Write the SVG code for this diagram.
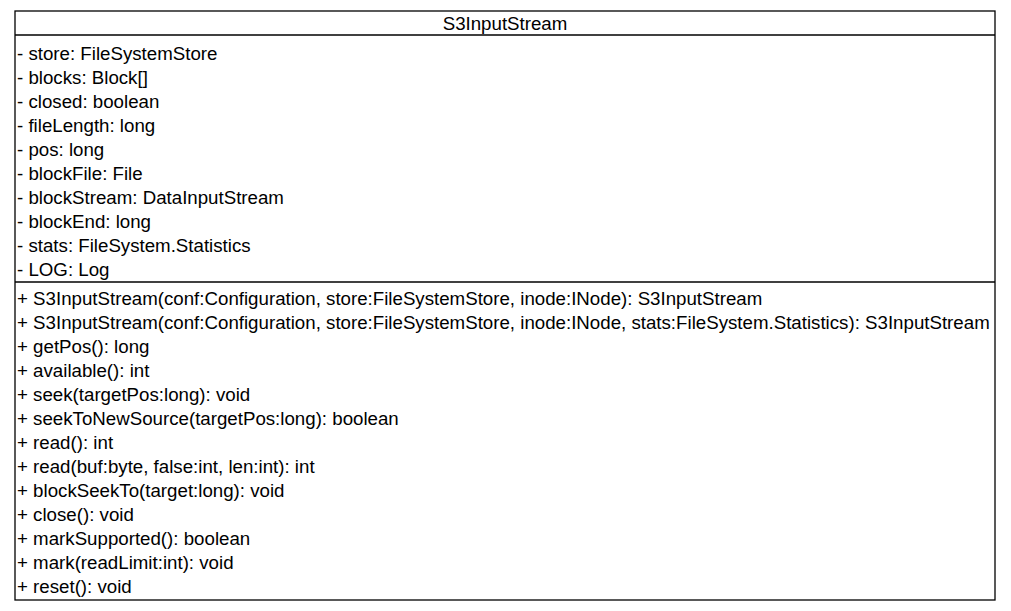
<svg xmlns="http://www.w3.org/2000/svg" width="1011" height="611" viewBox="0 0 1011 611">
<style>
text{font-family:"Liberation Sans",Arial,sans-serif;font-size:18.7px;fill:#000}
.box{fill:#fff;stroke:#000;stroke-width:1.3}
.sep{stroke:#000;stroke-width:1.3}
</style>
<rect width="1011" height="611" fill="#fff"/>
<g id="S3InputStream">
<rect class="box" x="15" y="11" width="980" height="589"/>
<line class="sep" x1="15" y1="35" x2="995" y2="35"/>
<line class="sep" x1="15" y1="282" x2="995" y2="282"/>
<text x="505" y="30" text-anchor="middle">S3InputStream</text>
<text x="17" y="60">- store: FileSystemStore</text>
<text x="17" y="84">- blocks: Block[]</text>
<text x="17" y="108">- closed: boolean</text>
<text x="17" y="132">- fileLength: long</text>
<text x="17" y="156">- pos: long</text>
<text x="17" y="180">- blockFile: File</text>
<text x="17" y="204">- blockStream: DataInputStream</text>
<text x="17" y="228">- blockEnd: long</text>
<text x="17" y="252">- stats: FileSystem.Statistics</text>
<text x="17" y="276">- LOG: Log</text>
<text x="17" y="305">+ S3InputStream(conf:Configuration, store:FileSystemStore, inode:INode): S3InputStream</text>
<text x="17" y="329">+ S3InputStream(conf:Configuration, store:FileSystemStore, inode:INode, stats:FileSystem.Statistics): S3InputStream</text>
<text x="17" y="353">+ getPos(): long</text>
<text x="17" y="377">+ available(): int</text>
<text x="17" y="401">+ seek(targetPos:long): void</text>
<text x="17" y="425">+ seekToNewSource(targetPos:long): boolean</text>
<text x="17" y="449">+ read(): int</text>
<text x="17" y="473">+ read(buf:byte, false:int, len:int): int</text>
<text x="17" y="497">+ blockSeekTo(target:long): void</text>
<text x="17" y="521">+ close(): void</text>
<text x="17" y="545">+ markSupported(): boolean</text>
<text x="17" y="569">+ mark(readLimit:int): void</text>
<text x="17" y="593">+ reset(): void</text>
</g>
</svg>
